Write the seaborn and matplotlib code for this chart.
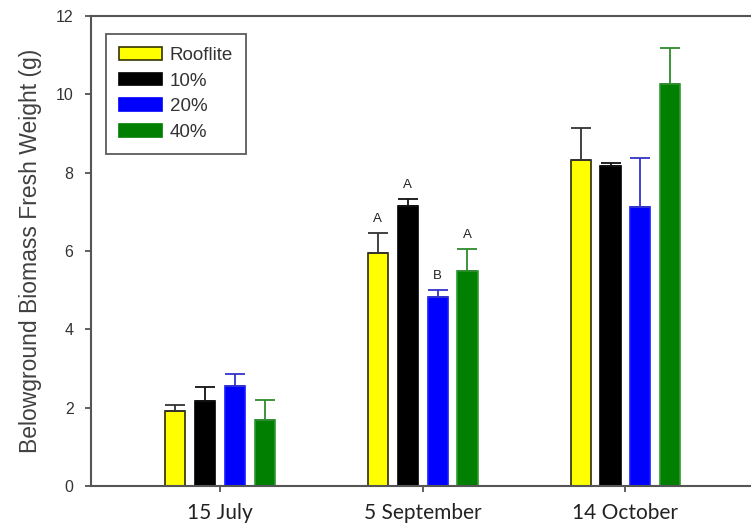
import numpy as np
import pandas as pd
import matplotlib
matplotlib.use('Agg')
import matplotlib.pyplot as plt
from matplotlib.patches import Patch
import seaborn as sns

dates = ['15 July', '5 September', '14 October']
treatments = ['Rooflite', '10%', '20%', '40%']
means = {
    'Rooflite': [1.91, 5.95, 8.32],
    '10%': [2.17, 7.15, 8.17],
    '20%': [2.55, 4.83, 7.12],
    '40%': [1.68, 5.49, 10.26],
}
errs = {
    'Rooflite': [0.16, 0.51, 0.82],
    '10%': [0.36, 0.18, 0.08],
    '20%': [0.31, 0.17, 1.25],
    '40%': [0.52, 0.56, 0.92],
}
letters = {'Rooflite': 'A', '10%': 'A', '20%': 'B', '40%': 'A'}

bar_colors = ['#FFFF00', '#000000', '#0000FF', '#007F00']
edge_colors = ['#2b2b00', '#000000', '#1a1aff', '#2f9a2f']
err_colors = ['#333333', '#111111', '#3333cc', '#2e8b2e']

rows = []
for t in treatments:
    for d, m in zip(dates, means[t]):
        rows.append({'date': d, 'treatment': t, 'weight': m})
df = pd.DataFrame(rows)

sns.set_theme(style='white')
plt.rcParams['font.family'] = ['Liberation Sans', 'DejaVu Sans']

fig = plt.figure(figsize=(7.51, 5.25), dpi=100)
ax = fig.add_axes([0.121, 0.0743, 0.928, 0.8952])

sns.barplot(data=df, x='date', y='weight', hue='treatment', order=dates,
            hue_order=treatments, palette=bar_colors, width=0.59, gap=0.33,
            errorbar=None, legend=False, saturation=1, ax=ax)

# upward-only error bars and significance letters
for i, (t, cont) in enumerate(zip(treatments, ax.containers)):
    for j, bar in enumerate(cont):
        bar.set_edgecolor(edge_colors[i])
        bar.set_linewidth(1.2)
        xc = bar.get_x() + bar.get_width() / 2
        ax.errorbar(xc, means[t][j], yerr=[[0], [errs[t][j]]], fmt='none',
                    ecolor=err_colors[i], elinewidth=1.3, capsize=7, capthick=1.3,
                    zorder=1)
        if j == 1:
            ax.text(xc, means[t][j] + errs[t][j] + 0.2, letters[t],
                    ha='center', va='bottom', fontsize=9.5, color='#222222')

ax.set_xlim(-0.635, 2.8)
ax.set_ylim(0, 12)
ax.set_yticks(np.arange(0, 13, 2))
ax.set_xlabel('')
ax.set_ylabel('Belowground Biomass Fresh Weight (g)', fontsize=16.5, color='#404040', labelpad=10)
ax.tick_params(axis='y', direction='out', length=4.5, width=1.2, colors='#444444',
               labelsize=11.5, labelcolor='#333333', left=True, pad=8)
ax.tick_params(axis='x', direction='out', length=4, width=1.2, colors='#444444',
               labelsize=15, labelcolor='#222222', bottom=True, pad=8)
for lbl in ax.get_xticklabels():
    lbl.set_family(['Lato', 'DejaVu Sans'])
for s in ax.spines.values():
    s.set_color('#555555')
    s.set_linewidth(1.5)

handles = [Patch(facecolor=c, edgecolor=e, linewidth=1.2) for c, e in zip(bar_colors, ['#333300', '#000000', '#0000FF', '#007F00'])]
leg = ax.legend(handles, treatments, loc='upper left', bbox_to_anchor=(0.022, 0.962),
                borderaxespad=0, frameon=True, fancybox=False, fontsize=13.5,
                handlelength=2.25, handleheight=0.65, labelspacing=0.46,
                borderpad=0.7, handletextpad=0.45)
leg.get_frame().set_edgecolor('#333333')
leg.get_frame().set_linewidth(1.3)
for txt in leg.get_texts():
    txt.set_color('#333333')

fig.savefig('out.png', dpi=100)
